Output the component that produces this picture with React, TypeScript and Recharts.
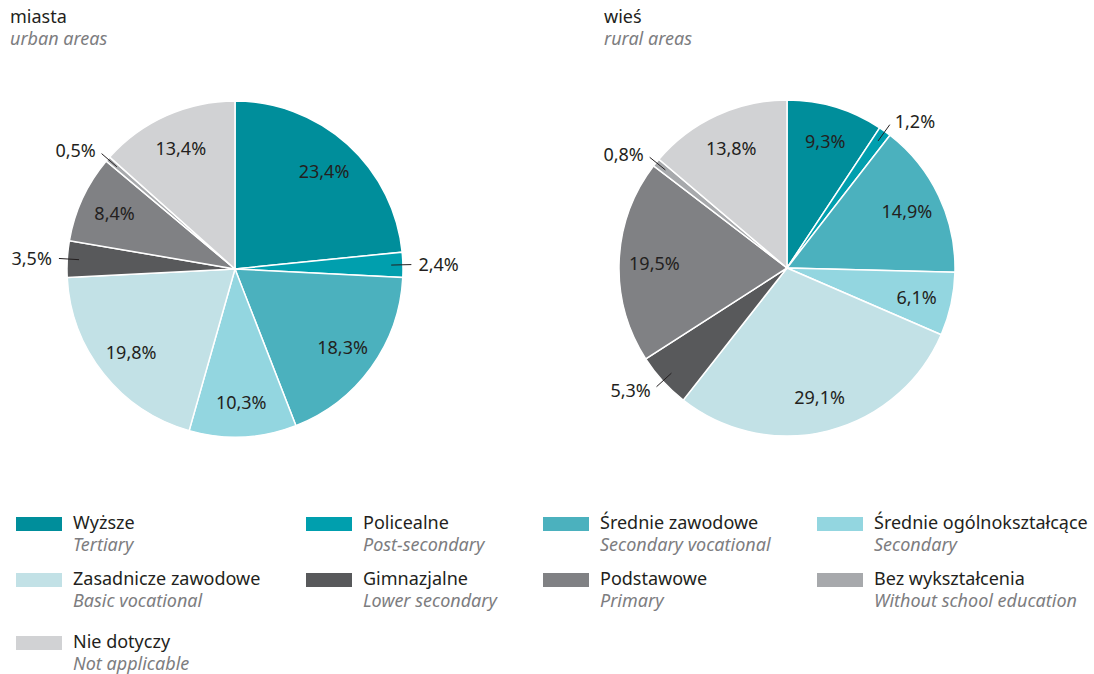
import React from "react";
import { Cell, Pie, PieChart } from "recharts";

// categories (Polish / English) and slice colours
const namesPl = [
	"Wyższe",
	"Policealne",
	"Średnie zawodowe",
	"Średnie ogólnokształcące",
	"Zasadnicze zawodowe",
	"Gimnazjalne",
	"Podstawowe",
	"Bez wykształcenia",
	"Nie dotyczy",
];
const namesEn = [
	"Tertiary",
	"Post-secondary",
	"Secondary vocational",
	"Secondary",
	"Basic vocational",
	"Lower secondary",
	"Primary",
	"Without school education",
	"Not applicable",
];
const colors = [
	"#008e9b",
	"#009fae",
	"#4bb1be",
	"#93d6e0",
	"#c2e1e6",
	"#58595b",
	"#808184",
	"#a7a9ac",
	"#d1d2d4",
];

// shares in %
const urbanValues = [23.4, 2.4, 18.3, 10.3, 19.8, 3.5, 8.4, 0.5, 13.4];
const ruralValues = [9.3, 1.2, 14.9, 6.1, 29.1, 5.3, 19.5, 0.8, 13.8];

const urbanData = namesPl.map((name, i) => ({ name, value: urbanValues[i] }));
const ruralData = namesPl.map((name, i) => ({ name, value: ruralValues[i] }));

const FONT = "'Noto Sans', sans-serif";
const TEXT = "#231f20";
const GREY = "#7d7d7f";
const RAD = Math.PI / 180;

const fmt = (v: number) => v.toFixed(1).replace(".", ",") + "%";

function renderLabel(props: any) {
	const { cx, cy, midAngle, outerRadius, value } = props;
	const cos = Math.cos(-midAngle * RAD);
	const sin = Math.sin(-midAngle * RAD);
	if (value >= 6) {
		const r = outerRadius * 0.79;
		return (
			<text
				x={cx + r * cos}
				y={cy + r * sin}
				textAnchor="middle"
				dominantBaseline="central"
				fill={TEXT}
				fontSize={18}
				fontFamily={FONT}
			>
				{fmt(value)}
			</text>
		);
	}
	// small slices: label outside with a short leader line
	const r1 = outerRadius * 0.93;
	const r2 = outerRadius * 1.05;
	const r3 = outerRadius * 1.08;
	const right = cos >= 0;
	return (
		<g>
			<line
				x1={cx + r1 * cos}
				y1={cy + r1 * sin}
				x2={cx + r2 * cos}
				y2={cy + r2 * sin}
				stroke={TEXT}
				strokeWidth={1}
			/>
			<text
				x={cx + r3 * cos + (right ? 2 : -2)}
				y={cy + r3 * sin}
				textAnchor={right ? "start" : "end"}
				dominantBaseline="central"
				fill={TEXT}
				fontSize={18}
				fontFamily={FONT}
			>
				{fmt(value)}
			</text>
		</g>
	);
}

const legendCols = [16, 306, 543, 817];
const legendRows = [517, 573, 636];

export default function App() {
	return (
		<div
			style={{
				position: "absolute",
				left: 0,
				top: 0,
				width: 1094,
				height: 674,
				background: "#fff",
				fontFamily: FONT,
			}}
		>
			<div style={{ position: "absolute", left: 10, top: 5, fontSize: 18, color: TEXT, lineHeight: "22px" }}>
				miasta
				<div style={{ fontStyle: "italic", color: GREY }}>urban areas</div>
			</div>
			<div style={{ position: "absolute", left: 604, top: 5, fontSize: 18, color: TEXT, lineHeight: "22px" }}>
				wieś
				<div style={{ fontStyle: "italic", color: GREY }}>rural areas</div>
			</div>
			<div style={{ position: "absolute", left: 0, top: 0 }}>
				<PieChart width={1094} height={500} margin={{ top: 0, right: 0, bottom: 0, left: 0 }}>
					<Pie
						data={urbanData}
						dataKey="value"
						cx={235}
						cy={269}
						outerRadius={168}
						startAngle={90}
						endAngle={-270}
						stroke="#ffffff"
						strokeWidth={1.5}
						label={renderLabel}
						labelLine={false}
						isAnimationActive={false}
					>
						{urbanData.map((d, i) => (
							<Cell key={`u-${d.name}`} fill={colors[i]} />
						))}
					</Pie>
					<Pie
						data={ruralData}
						dataKey="value"
						cx={787}
						cy={268}
						outerRadius={168}
						startAngle={90}
						endAngle={-270}
						stroke="#ffffff"
						strokeWidth={1.5}
						label={renderLabel}
						labelLine={false}
						isAnimationActive={false}
					>
						{ruralData.map((d, i) => (
							<Cell key={`r-${d.name}`} fill={colors[i]} />
						))}
					</Pie>
				</PieChart>
			</div>
			{namesPl.map((name, i) => {
				const left = legendCols[i % 4];
				const top = legendRows[Math.floor(i / 4)];
				return (
					<div key={name} style={{ position: "absolute", left, top }}>
						<div
							style={{
								position: "absolute",
								left: 0,
								top: 0,
								width: 46,
								height: 14,
								background: colors[i],
							}}
						/>
						<div
							style={{
								position: "absolute",
								left: 57,
								top: -6,
								whiteSpace: "nowrap",
								fontSize: 18,
								lineHeight: "22px",
								color: TEXT,
							}}
						>
							{name}
							<div style={{ fontStyle: "italic", color: GREY }}>{namesEn[i]}</div>
						</div>
					</div>
				);
			})}
		</div>
	);
}
